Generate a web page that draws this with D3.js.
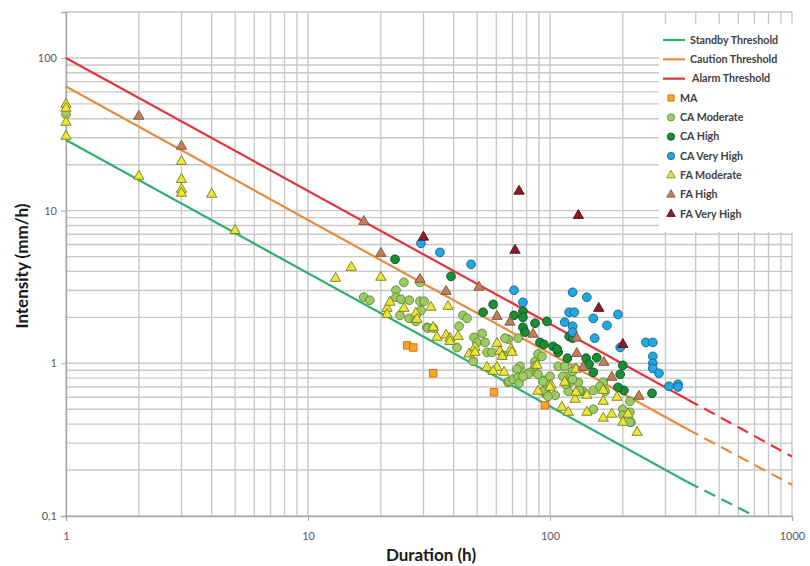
<!DOCTYPE html>
<html>
<head>
<meta charset="utf-8">
<script src="https://cdn.jsdelivr.net/npm/d3@7"></script>
<style>
body { margin: 0; background: #fff; }
</style>
</head>
<body>
<svg id="chart" width="810" height="566"></svg>
<script>
// [duration (h), intensity (mm/h)]
var maData = [[25.7,1.31],[27.2,1.27],[32.9,0.86],[58.7,0.646],[95.3,0.531]];

var caModerate = [[1,42.7],[17,2.71],[18,2.59],[23.1,3.01],[24.9,3.39],[23.1,2.71],[24.2,2.63],[26.2,2.59],
 [29,2.55],[30.2,2.55],[29.3,2.22],[26.2,1.97],[24,2.06],[27.9,1.88],[31,1.72],[29,3.39],[31.3,1.7],[32.9,1.7],
 [41.3,1.27],[42.1,1.75],[43.7,2.06],[45.4,1.97],[48.5,1.48],[52.4,1.57],[49.9,1.37],[53.9,1.37],[54.9,1.18],
 [48.1,1.03],[67.1,1.44],[67.1,0.751],[57.6,1.18],[63.9,1.13],[75.2,0.956],[76.6,0.873],[73,0.913],[67.7,0.762],
 [70.3,0.786],[73.8,0.81],[82.7,0.873],[86.7,1.03],[89.2,1.15],[94.4,0.774],[100,0.822],[96.3,0.676],[96.3,0.627],
 [105,0.617],[108,0.956],[118,0.822],[127,0.927],[131,0.751],[137,0.656],[151,0.665],[151,0.5],[166,0.751],
 [169,0.656],[200,0.5],[200,0.457],[214,0.564],[216,0.411],[65.2,1.46],[73.8,1.46],[92.7,1.11],[86.7,0.956],
 [81.1,0.847],[74.5,0.74],[77.3,0.822],[89.2,0.847],[93.5,0.762],[93.5,0.656],[98.1,0.608],[121,0.751],
 [119,0.656],[133,0.656],[161,0.707],[113,0.822],[116,0.729],[124,0.786],[132,0.665],[214,0.478],[214,0.411],
 [115,0.956],[124,0.886]];

var caHigh = [[22.9,4.8],[39,3.71],[58.2,2.43],[52.9,2.16],[71,2.06],[77.3,2.19],[77.3,2.0],[97.2,1.88],
 [86.7,1.83],[77.3,1.72],[78.8,1.6],[90.9,1.37],[94.4,1.33],[103,1.29],[108,1.18],[118,1.08],[120,1.5],
 [124,1.46],[141,1.08],[145,0.985],[156,1.09],[151,0.873],[200,0.97],[195,0.847],[202,0.665],[191,0.696],
 [264,0.636],[107,1.24]];

var caVeryHigh = [[29.3,6.1],[35.1,5.33],[47.2,4.45],[71,3.01],[77.3,2.51],[124,2.92],[142,2.71],[120,2.16],
 [126,2.16],[151,1.97],[172,1.77],[191,2.09],[115,1.86],[124,1.75],[124,1.6],[153,1.46],[195,1.27],[249,1.37],
 [266,1.37],[266,1.11],[266,1.0],[266,0.927],[282,0.86],[310,0.707],[338,0.729],[338,0.7]];

var faModerate = [[1,49.7],[1,46.8],[1,37.9],[1,30.7],[2,16.8],[3,21],[3,16],[3,13.8],[3,13],[4,12.8],[5,7.4],
 [15.1,4.25],[13,3.6],[20,3.66],[21.2,2.29],[21.2,2.09],[21.8,2.51],[24.9,2.29],[27.9,2.13],[28.2,1.94],
 [32.2,2.33],[37.9,2.36],[32.9,1.72],[34.1,1.48],[37.2,1.53],[38.6,1.46],[38.6,1.39],[41.7,1.5],[46.3,1.15],
 [49,1.27],[49,1.18],[60.4,1.35],[62.1,1.2],[63.4,1.11],[54.9,0.94],[60.4,0.94],[64.6,0.873],[69,1.24],
 [69.7,1.18],[58.2,0.886],[88.4,0.97],[89.2,0.656],[101,0.718],[112,0.515],[119,0.478],[127,0.581],[142,0.478],
 [166,0.564],[166,0.437],[180,0.464],[200,0.411],[229,0.353],[128,0.913],[142,0.617],[210,0.464],[189,0.599],
 [166,0.665],[128,0.646],[100,0.696],[115,0.751]];

var faHigh = [[2,41.5],[3,26.4],[17,8.5],[20,5.25],[29,3.55],[37.2,2.96],[50.9,3.15],[60.4,2.03],[68.3,1.86],
 [85.1,1.55],[129,1.46],[129,1.16],[137,0.94],[167,1.015],[180,0.81],[233,0.608]];

var faVeryHigh = [[74.5,13.4],[131,9.3],[71.7,5.5],[30,6.7],[159,2.29],[200,1.33]];

// threshold lines: solid part, then dashed extension
var standbySolid = [[1,29],[370,0.167]];
var standbyDash = [[370,0.167],[700,0.1]];
var cautionSolid = [[1,65],[370,0.37]];
var cautionDash = [[370,0.37],[1000,0.16]];
var alarmSolid = [[1,100],[370,0.58]];
var alarmDash = [[370,0.58],[1000,0.245]];

var xTicks = [1, 10, 100, 1000];
var xTickLabels = ["1", "10", "100", "1000"];
var yTicks = [0.1, 1, 10, 100];
var yTickLabels = ["0,1", "1", "10", "100"];

var thresholdNames = ["Standby Threshold", "Caution Threshold", "Alarm Threshold"];
var seriesNames = ["MA", "CA Moderate", "CA High", "CA Very High", "FA Moderate", "FA High", "FA Very High"];

var font = "Lato, 'Open Sans', sans-serif";

DrawChart();

function DrawChart(){
	var svg = d3.select("#chart");

	var xScale = d3.scaleLog().domain([1, 1000]).range([66, 792]);
	var yScale = d3.scaleLog().domain([0.1, 200]).range([516, 12]);

	// grid: every 1..9 of each decade
	var xGrid = [], yGrid = [];
	[1, 10, 100].forEach(function(b){ for (var k = 1; k <= 9; k++) xGrid.push(b * k); });
	xGrid.push(1000);
	[0.1, 1, 10, 100].forEach(function(b){ for (var k = 1; k <= 9; k++) if (b * k <= 200.001) yGrid.push(b * k); });

	var grid = svg.append("g").attr("stroke", "#c8c8c8").attr("stroke-width", 1.4);
	grid.selectAll(".gx").data(xGrid).enter().append("line")
	    .attr("x1", function(d){ return xScale(d); })
	    .attr("x2", function(d){ return xScale(d); })
	    .attr("y1", yScale(200)).attr("y2", yScale(0.1));
	grid.selectAll(".gy").data(yGrid).enter().append("line")
	    .attr("y1", function(d){ return yScale(d); })
	    .attr("y2", function(d){ return yScale(d); })
	    .attr("x1", xScale(1)).attr("x2", xScale(1000));

	// axes
	var yAxis = svg.append("g")
	    .attr("transform", "translate(" + xScale(1) + ",0)")
	    .call(d3.axisLeft(yScale).tickValues(yTicks).tickSize(5).tickPadding(4)
	        .tickFormat(function(d, i){ return yTickLabels[i]; }));
	var xAxis = svg.append("g")
	    .attr("transform", "translate(0," + yScale(0.1) + ")")
	    .call(d3.axisBottom(xScale).tickValues(xTicks).tickSize(5).tickPadding(11)
	        .tickFormat(function(d, i){ return xTickLabels[i]; }));
	[xAxis, yAxis].forEach(function(a){
		a.select(".domain").attr("stroke", "#aaaaaa").attr("stroke-width", 1.4);
		a.selectAll(".tick line").attr("stroke", "#aaaaaa");
		a.selectAll("text").attr("fill", "#595959").attr("font-size", "11px").attr("font-family", font);
	});

	svg.append("text")
	   .attr("x", 431).attr("y", 561)
	   .attr("text-anchor", "middle")
	   .attr("font-size", "17px").attr("font-weight", "bold")
	   .attr("font-family", font).attr("fill", "#1a1a1a")
	   .text("Duration (h)");
	svg.append("text")
	   .attr("transform", "translate(28,266) rotate(-90)")
	   .attr("text-anchor", "middle")
	   .attr("font-size", "17px").attr("font-weight", "bold")
	   .attr("font-family", font).attr("fill", "#1a1a1a")
	   .text("Intensity (mm/h)");

	// threshold lines
	var line = d3.line().x(function(d){ return xScale(d[0]); }).y(function(d){ return yScale(d[1]); });
	var thr = [
		{solid: standbySolid, dash: standbyDash, color: "#2eb06f"},
		{solid: cautionSolid, dash: cautionDash, color: "#e88b3c"},
		{solid: alarmSolid, dash: alarmDash, color: "#e0363b"}
	];
	thr.forEach(function(t){
		svg.append("path").attr("d", line(t.solid)).attr("fill", "none")
		   .attr("stroke", t.color).attr("stroke-width", 2.2);
		svg.append("path").attr("d", line(t.dash)).attr("fill", "none")
		   .attr("stroke", t.color).attr("stroke-width", 2.2).attr("stroke-dasharray", "12,7");
	});

	// scatter series
	var series = [
		{data: maData, shape: d3.symbolSquare, size: 56, fill: "#f5a623", stroke: "#e0601a"},
		{data: caModerate, shape: d3.symbolCircle, size: 60, fill: "#9ccb62", stroke: "#5f8535"},
		{data: caHigh, shape: d3.symbolCircle, size: 60, fill: "#1b8d37", stroke: "#0b4f1d"},
		{data: caVeryHigh, shape: d3.symbolCircle, size: 60, fill: "#23a7e0", stroke: "#145f88"},
		{data: faModerate, shape: d3.symbolTriangle, size: 46, fill: "#e8e63a", stroke: "#7c7a1a"},
		{data: faHigh, shape: d3.symbolTriangle, size: 46, fill: "#c0805e", stroke: "#7d5036"},
		{data: faVeryHigh, shape: d3.symbolTriangle, size: 46, fill: "#8c1a2b", stroke: "#500c15"}
	];
	series.forEach(function(s){
		svg.append("g").selectAll("path").data(s.data).enter().append("path")
		   .attr("d", d3.symbol().type(s.shape).size(s.size))
		   .attr("transform", function(d){ return "translate(" + xScale(d[0]) + "," + yScale(d[1]) + ")"; })
		   .attr("fill", s.fill).attr("stroke", s.stroke).attr("stroke-width", 0.9);
	});

	// legend
	var lg = svg.append("g");
	lg.append("rect").attr("x", 659).attr("y", 24).attr("width", 146).attr("height", 208).attr("fill", "#fff");
	var legY = d3.scaleLinear().domain([0, 9]).range([40, 214]);
	thr.forEach(function(t, i){
		lg.append("line").attr("x1", 663).attr("x2", 685)
		  .attr("y1", legY(i)).attr("y2", legY(i))
		  .attr("stroke", t.color).attr("stroke-width", 2.2);
		lg.append("text").attr("x", i == 2 ? 692 : 690).attr("y", legY(i) + 3.8)
		  .attr("font-size", "10.7px").attr("font-weight", "bold")
		  .attr("font-family", font).attr("fill", "#404040")
		  .text(thresholdNames[i]);
	});
	series.forEach(function(s, i){
		var yy = legY(i + 3);
		lg.append("path")
		  .attr("d", d3.symbol().type(s.shape).size(s.size * 0.7))
		  .attr("transform", "translate(671," + yy + ")")
		  .attr("fill", s.fill).attr("stroke", s.stroke).attr("stroke-width", 0.8);
		lg.append("text").attr("x", 680).attr("y", yy + 3.8)
		  .attr("font-size", "10.7px").attr("font-weight", "bold")
		  .attr("font-family", font).attr("fill", "#404040")
		  .text(seriesNames[i]);
	});
}
</script>
</body>
</html>
